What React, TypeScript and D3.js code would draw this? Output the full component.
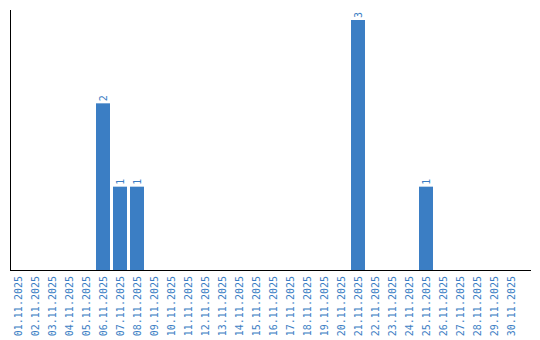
import React from "react";
import * as d3 from "d3";

const dates: string[] = Array.from({ length: 30 }, (_, i) => `${String(i + 1).padStart(2, "0")}.11.2025`);
const counts: number[] = [0,0,0,0,0,2,1,1,0,0,0,0,0,0,0,0,0,0,0,0,3,0,0,0,1,0,0,0,0,0];

const W = 540, H = 340;
const color = "#3b7ec4";

export default function App() {
  const x = d3.scaleBand<string>().domain(dates).range([11, 518]).paddingInner(3 / 17).paddingOuter(0);
  const y = d3.scaleLinear().domain([0, 3]).range([270, 20]);
  const font = "'DejaVu Sans Mono', monospace";
  return (
    <svg width={W} height={H} style={{ position: "absolute", left: 0, top: 0, background: "#fff" }}>
      {dates.map((d, i) => counts[i] > 0 ? (
        <g key={d}>
          <rect x={x(d)} y={y(counts[i])} width={x.bandwidth()} height={270 - y(counts[i])} fill={color} />
          <text transform={`translate(${x(d)! + x.bandwidth() / 2 + 3.5},${y(counts[i]) - 2}) rotate(-90)`}
            fontFamily={font} fontSize={10} fill={color}>{counts[i]}</text>
        </g>
      ) : null)}
      {dates.map((d) => (
        <text key={"l" + d} transform={`translate(${x(d)! + x.bandwidth() / 2 + 3.5},276) rotate(-90)`}
          textAnchor="end" fontFamily={font} fontSize={10} fill={color}>{d}</text>
      ))}
      <line x1={10.5} x2={10.5} y1={10} y2={270.5} stroke="#000" strokeWidth={1} />
      <line x1={10} x2={531} y1={270.5} y2={270.5} stroke="#000" strokeWidth={1} />
    </svg>
  );
}
